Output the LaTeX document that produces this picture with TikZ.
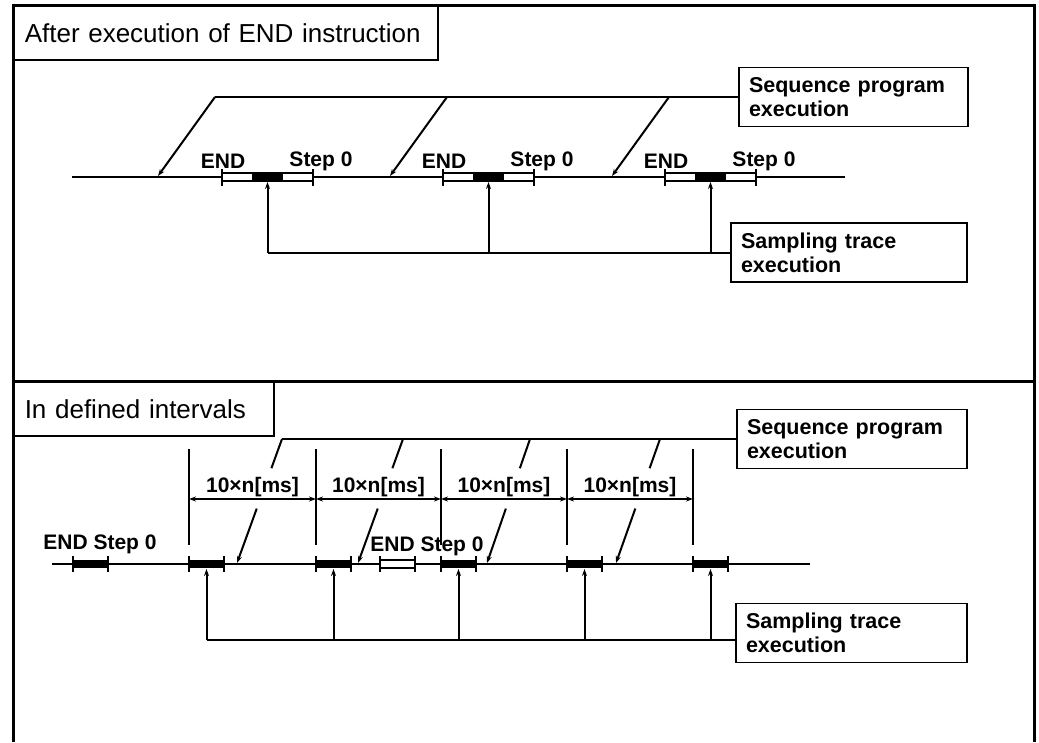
\documentclass[tikz,border=0pt]{standalone}
\usepackage{fontspec}
\setmainfont{Liberation Sans}
\usetikzlibrary{arrows.meta,calc}
\begin{document}
\begin{tikzpicture}[x=1pt,y=-1pt,
  frame/.style={line width=3pt},
  titlebox/.style={draw,line width=1.5pt,fill=white,anchor=north west,align=left,
    inner xsep=11pt,minimum height=54pt,font=\fontsize{26}{30}\selectfont},
  notebox/.style={draw,line width=1.5pt,fill=white,inner xsep=10pt,minimum height=59pt,
    align=left,font=\bfseries\fontsize{21.5}{24}\selectfont},
  wire/.style={line width=2pt},
  tip/.style={wire,-{Stealth[length=7pt,width=5pt]}},
  tline/.style={line width=2pt},
  lbl/.style={font=\bfseries\fontsize{21}{24}\selectfont,inner sep=0pt},
  dim/.style={line width=1.5pt,{Stealth[length=7pt,width=5pt]}-{Stealth[length=7pt,width=5pt]}},
  guide/.style={line width=1.5pt},
  tick/.style={line width=1.5pt},
]
\useasboundingbox (0,0) rectangle (1039,742);

% panel titles
\node[titlebox,text width=402pt] (titleA) at (13,5) {After execution of END instruction};
\node[titlebox,text width=238pt] (titleB) at (13,381) {In defined intervals};

% outer frame and divider
\draw[frame] (13,742) -- (13,5) -- (1034,5) -- (1034,742);
\draw[frame] (13,381) -- (1034,381);

% ---------------- upper panel: sampling after END ----------------
\node[notebox,text width=209pt] (seqA) at (853.5,97) {Sequence program\\execution};
\node[notebox,text width=216pt] (trcA) at (849,252.5) {Sampling trace\\execution};

\coordinate (tlA0) at (72,177);
\coordinate (tlA1) at (845,177);
\draw[tline] (tlA0) -- (tlA1);

\foreach \n/\x in {1/222,2/443,3/665}{
  \draw[line width=1.5pt,fill=white] (\x,173) rectangle ++(91,8);
  \fill (\x+30,173) rectangle ++(31,8);
  \draw[tick] (\x,169) -- ++(0,17);
  \draw[tick] (\x+91,169) -- ++(0,17);
  \coordinate (segA\n) at (\x+45.5,182);
  \node[lbl] (endA\n) at (\x+1,161) {END};
  \node[lbl] (stepA\n) at (\x+99,161) {Step 0};
}

% sequence program execution pointers
\foreach \n/\x in {1/215,2/447,3/669}{
  \coordinate (kA\n) at (\x,97);
  \coordinate (aA\n) at (\x-57,176);
}
\draw[wire] (seqA.west) -- (kA1);
\foreach \n in {1,2,3}{ \draw[tip] (kA\n) -- (aA\n); }

% sampling trace pointers
\draw[wire] (trcA.west) -- (segA1 |- trcA.west);
\foreach \n in {1,2,3}{ \draw[tip] (segA\n |- trcA.west) -- (segA\n); }

% ---------------- lower panel: sampling in intervals ----------------
\node[notebox,text width=210pt] (seqB) at (852,439) {Sequence program\\execution};
\node[notebox,text width=211pt] (trcB) at (851.5,633) {Sampling trace\\execution};

\coordinate (tlB0) at (52,564);
\coordinate (tlB1) at (810,564);
\draw[tline] (tlB0) -- (tlB1);

% END / Step 0 bars
\foreach \n/\x in {0/73,1/189,2/316,3/441,4/567,5/693}{
  \fill (\x,560) rectangle ++(35,8);
  \draw[tick] (\x,556) -- ++(0,16);
  \draw[tick] (\x+35,556) -- ++(0,16);
  \coordinate (segB\n) at (\x+17.5,569);
}
\draw[line width=1.5pt,fill=white] (380,560) rectangle ++(35,8);
\draw[tick] (380,556) -- ++(0,16);
\draw[tick] (415,556) -- ++(0,16);
\node[lbl] (endB1) at (100,544) {END Step 0};
\node[lbl] (endB2) at (427,546) {END Step 0};

% interval guides and dimensions
\foreach \n/\x in {1/189,2/316,3/441,4/567,5/693}{
  \coordinate (gt\n) at (\x,449);
  \coordinate (gb\n) at (\x,545);
  \coordinate (gd\n) at (\x,499);
  \draw[guide] (gt\n) -- (gb\n);
}
\foreach \a/\b in {1/2,2/3,3/4,4/5}{
  \draw[dim] (gd\a) -- (gd\b);
  \node[lbl] (int\a) at ($(gd\a)!0.5!(gd\b)+(0,-12)$) {10×n[ms]};
}

% sequence program execution pointers (broken behind the interval labels)
\foreach \n/\x/\t in {1/282/237,2/403/358,3/530/487,4/660/616}{
  \coordinate (kB\n) at (\x,439);
  \coordinate (aB\n) at (\t,563);
}
\draw[wire] (seqB.west) -- (kB1);
\foreach \n in {1,2,3,4}{
  \draw[wire] (kB\n) -- ($(kB\n)!0.236!(aB\n)$);
  \draw[tip] ($(kB\n)!0.561!(aB\n)$) -- (aB\n);
}

% sampling trace pointers
\coordinate (sB) at (segB1 |- 0,640);
\draw[wire] (sB) -- (sB -| trcB.west);
\foreach \n in {1,2,3,4,5}{ \draw[tip] (segB\n |- sB) -- (segB\n); }

\end{tikzpicture}
\end{document}
